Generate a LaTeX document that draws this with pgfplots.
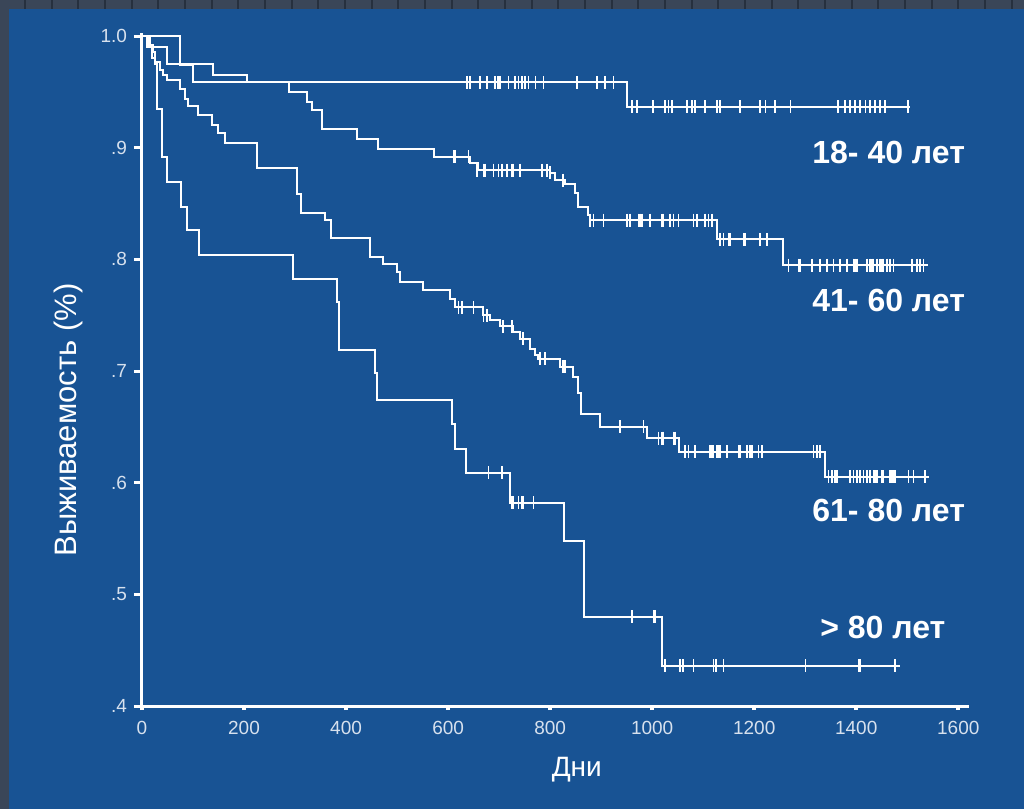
\documentclass[border=0pt]{standalone}
\usepackage{pgfplots}
\pgfplotsset{compat=1.18}
\usepackage{fontspec}
\setmainfont{Liberation Sans}
\definecolor{bgblue}{RGB}{24,83,148}
\definecolor{slate}{RGB}{58,70,88}
\definecolor{slateline}{RGB}{38,48,62}
\definecolor{ticklab}{RGB}{215,225,238}
\begin{document}
\begin{tikzpicture}
\fill[slate] (-71pt,-51.4pt) rectangle (441pt,353.1pt);
\foreach \i in {0,...,37}{\pgfmathsetmacro\xx{-71+0.5*(25+26.67*\i)}\draw[slateline,line width=1pt] (\xx pt,348.45pt) -- (\xx pt,353.1pt);}
\fill[bgblue] (-66.5pt,-51.4pt) rectangle (441pt,348.45pt);
\begin{axis}[at={(0,0)}, anchor=south west, scale only axis,
  width=413.5pt, height=336.75pt,
  xmin=0, xmax=1621, ymin=0.4, ymax=1.003,
  axis lines*=left, clip=false,
  axis line style={white, line width=1.5pt},
  xtick={0,200,...,1600}, ytick={0.4,0.5,0.6,0.7,0.8,0.9,1.0},
  yticklabels={.4,.5,.6,.7,.8,.9,1.0},
  tick align=outside, major tick length=4pt,
  y tick style={white, line width=1.5pt},
  x tick style={white, line width=2pt, dash pattern=on 0pt off 2pt on 2pt},
  ticklabel style={font=\fontsize{9.5}{11}\selectfont, text=ticklab},
  /pgf/number format/assume math mode=true,
  /pgf/number format/1000 sep={},
]
% 18-40
\addplot[const plot, white, line width=1pt] table {
0 1.0
74.5 0.974
100 0.9586
951.6 0.9367
1506 0.9367
};
% 41-60
\addplot[const plot, white, line width=1pt] table {
0 1.0
9.8 0.990
48.4 0.975
139.2 0.965
205.3 0.9586
288.2 0.950
323.5 0.941
333.3 0.934
352.9 0.9165
421.6 0.9075
462.7 0.8986
572.5 0.892
643.1 0.886
658.8 0.880
800 0.8774
809.8 0.871
829.4 0.8675
849 0.8594
854.9 0.847
874.5 0.840
878.4 0.8353
1127.5 0.818
1256.9 0.795
1541 0.795
};
% 61-80
\addplot[const plot, white, line width=1pt] table {
0 1.0
15.7 0.992
21.6 0.986
25.5 0.977
35.3 0.970
41.8 0.965
48.4 0.961
74.5 0.953
84.3 0.944
90.8 0.937
110.4 0.929
136.7 0.920
149.6 0.913
162.7 0.904
224.9 0.8816
303.9 0.859
310.8 0.8415
358.8 0.835
370.6 0.819
447.1 0.8024
473.1 0.796
499.4 0.789
505.9 0.780
551.6 0.773
603.9 0.765
613.7 0.757
669.2 0.750
682.4 0.746
702 0.740
728 0.735
741.2 0.729
760.8 0.720
770.6 0.714
777 0.711
819.6 0.704
845.7 0.695
855.5 0.680
860.2 0.662
898 0.650
989.6 0.640
1051.6 0.628
1339.2 0.6055
1541.8 0.6055
};
% >80
\addplot[const plot, white, line width=1pt] table {
0 1.0
11.8 0.990
19.6 0.980
25.5 0.975
28.8 0.935
38.6 0.892
49.6 0.869
75.9 0.847
87.6 0.826
112.4 0.804
296.7 0.7825
382.9 0.762
386.9 0.719
456.9 0.698
461.4 0.674
606.9 0.653
613.7 0.630
635.3 0.609
721.6 0.582
827.5 0.548
866.7 0.480
1019 0.436
1486.3 0.436
};
% censored marks
\addplot[only marks, mark=|, mark size=3.25pt, white, mark options={line width=0.9pt}] table {
637.8 0.9586
643.1 0.9586
662.7 0.9586
675.9 0.9586
692.2 0.9586
698 0.9586
702 0.9586
718.2 0.9586
731.4 0.9586
737.8 0.9586
744.5 0.9586
751 0.9586
757.5 0.9586
771.2 0.9586
786.9 0.9586
852.9 0.9586
891.6 0.9586
907.8 0.9586
924.1 0.9586
960 0.9367
970 0.9367
1002 0.9367
1025 0.9367
1032 0.9367
1039 0.9367
1068 0.9367
1078 0.9367
1084 0.9367
1104 0.9367
1127 0.9367
1133 0.9367
1172 0.9367
1212 0.9367
1222 0.9367
1241 0.9367
1271 0.9367
1365 0.9367
1378 0.9367
1388 0.9367
1398 0.9367
1408 0.9367
1418 0.9367
1427 0.9367
1437 0.9367
1447 0.9367
1457 0.9367
1502 0.9367
};
\addplot[only marks, mark=|, mark size=3.25pt, white, mark options={line width=0.9pt}] table {
610.4 0.892
613.7 0.892
640 0.892
656.3 0.880
669.2 0.880
672.5 0.880
688.8 0.880
698.6 0.880
705.3 0.880
715.1 0.880
724.9 0.880
728 0.880
741.2 0.880
783.7 0.880
793.5 0.880
800 0.8774
825.5 0.871
878.4 0.8353
884.9 0.8353
904.5 0.8353
950.4 0.8353
956.9 0.8353
973.1 0.8353
976.5 0.8353
979.8 0.8353
996.1 0.8353
1019 0.8353
1022.2 0.8353
1035.3 0.8353
1041.8 0.8353
1051.6 0.8353
1081 0.8353
1087.6 0.8353
1103.9 0.8353
1110.4 0.8353
1117.1 0.8353
1133.3 0.818
1139.8 0.818
1149.6 0.818
1152.9 0.818
1179 0.818
1182.4 0.818
1211.8 0.818
1224.9 0.818
1267.3 0.795
1286.9 0.795
1290.2 0.795
1313.1 0.795
1329.4 0.795
1342.5 0.795
1355.5 0.795
1368.6 0.795
1381.8 0.795
1394.7 0.795
1398 0.795
1401.4 0.795
1421 0.795
1427.5 0.795
1430.8 0.795
1433.9 0.795
1440.6 0.795
1447.1 0.795
1450.4 0.795
1453.5 0.795
1460.2 0.795
1466.7 0.795
1473.1 0.795
1509.2 0.795
1519 0.795
1525.5 0.795
1532 0.795
};
\addplot[only marks, mark=|, mark size=3.25pt, white, mark options={line width=0.9pt}] table {
620.2 0.757
626.9 0.757
649.6 0.757
669.2 0.750
675.9 0.750
707.8 0.740
725.5 0.740
747 0.729
780.4 0.711
790.2 0.711
825.5 0.704
829.4 0.704
937.3 0.650
982.9 0.650
1012.4 0.640
1019 0.640
1022.2 0.640
1041.8 0.640
1045.1 0.640
1064.7 0.628
1071.2 0.628
1084.3 0.628
1113.7 0.628
1117.1 0.628
1120.2 0.628
1126.9 0.628
1130 0.628
1133.3 0.628
1146.5 0.628
1169.2 0.628
1172.5 0.628
1185.7 0.628
1192.2 0.628
1195.5 0.628
1208.4 0.628
1215.1 0.628
1316.3 0.628
1322.9 0.628
1329.4 0.628
1345.7 0.6055
1352.4 0.6055
1358.8 0.6055
1362.2 0.6055
1388.2 0.6055
1394.7 0.6055
1401.4 0.6055
1407.8 0.6055
1414.3 0.6055
1421 0.6055
1427.5 0.6055
1433.9 0.6055
1437.3 0.6055
1440.6 0.6055
1450.4 0.6055
1453.5 0.6055
1466.7 0.6055
1470 0.6055
1473.1 0.6055
1476.5 0.6055
1502.5 0.6055
1512.4 0.6055
1535.3 0.6055
};
\addplot[only marks, mark=|, mark size=3.25pt, white, mark options={line width=0.9pt}] table {
679 0.609
705.3 0.609
724.9 0.582
728 0.582
737.8 0.582
744.5 0.582
747.6 0.582
767.3 0.582
960.2 0.480
1002.5 0.480
1005.9 0.480
1025.5 0.436
1054.9 0.436
1060.2 0.436
1081 0.436
1120.2 0.436
1125.5 0.436
1139.8 0.436
1300.6 0.436
1404.5 0.436
1407.8 0.436
1476.5 0.436
};
\end{axis}
\node[white, rotate=90, font=\fontsize{15.5}{17}\selectfont] at (-37pt,143.1pt) {Выживаемость (\%)};
\node[white, font=\fontsize{14}{16}\selectfont] at (217.4pt,-31.9pt) {Дни};
\node[white, anchor=west, inner sep=0pt, font=\bfseries\fontsize{16}{18}\selectfont] at (335pt,277.1pt) {18- 40 лет};
\node[white, anchor=west, inner sep=0pt, font=\bfseries\fontsize{16}{18}\selectfont] at (335pt,203.1pt) {41- 60 лет};
\node[white, anchor=west, inner sep=0pt, font=\bfseries\fontsize{16}{18}\selectfont] at (335pt,98.1pt) {61- 80 лет};
\node[white, anchor=west, inner sep=0pt, font=\bfseries\fontsize{16}{18}\selectfont] at (339pt,39.6pt) {> 80 лет};
\pgfresetboundingbox
\useasboundingbox (-71pt,-51.4pt) rectangle (441pt,353.1pt);
\end{tikzpicture}
\end{document}
